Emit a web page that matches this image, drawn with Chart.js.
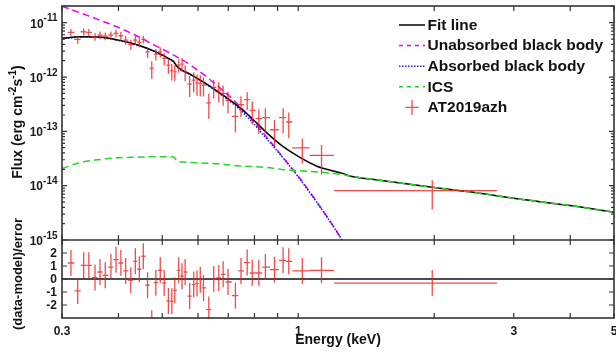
<!DOCTYPE html>
<html>
<head>
<meta charset="utf-8">
<script src="https://cdn.jsdelivr.net/npm/chart.js@4.4.1/dist/chart.umd.min.js"></script>
<style>
  html, body { margin: 0; padding: 0; background: #fff; }
  #wrap { width: 616px; height: 360px; position: relative; }
</style>
</head>
<body>
<div id="wrap"><canvas id="specChart" width="616" height="360"></canvas></div>
<script>
const modelEnergy = [0.3, 0.33, 0.36, 0.4, 0.44, 0.48, 0.52, 0.53, 0.54, 0.58, 0.62, 0.67, 0.72, 0.78,
    0.85, 0.92, 1.0, 1.1, 1.2, 1.25, 1.3, 1.5, 2, 2.5, 3, 4, 5];
const fitFlux = [5.16e-12, 5.49e-12, 5.45e-12, 4.78e-12, 3.93e-12, 2.99e-12, 2.14e-12, 1.93e-12, 1.54e-12,
    1.10e-12, 7.90e-13, 5.10e-13, 3.35e-13, 1.92e-13, 9.56e-14, 5.44e-14, 3.45e-14, 2.28e-14, 1.85e-14,
    1.70e-14, 1.51e-14, 1.27e-14, 9.24e-15, 7.31e-15, 5.86e-15, 4.30e-15, 3.23e-15];
const unabsFlux = [2.01e-11, 1.51e-11, 1.15e-11, 8.15e-12, 5.68e-12, 3.88e-12, 2.76e-12, 2.53e-12, 2.33e-12,
    1.62e-12, 1.08e-12, 6.36e-13, 3.74e-13, 1.85e-13, 8.0e-14, 3.53e-14, 1.5e-14, 5.0e-15, 1.72e-15,
    1.0e-15, null, null, null, null, null, null, null];
const absFlux = [5.11e-12, 5.44e-12, 5.40e-12, 4.73e-12, 3.88e-12, 2.94e-12, 2.09e-12, 1.88e-12, 1.52e-12,
    1.08e-12, 7.70e-13, 4.93e-13, 3.15e-13, 1.68e-13, 7.4e-14, 3.45e-14, 1.45e-14, 4.9e-15, 1.7e-15,
    1.0e-15, null, null, null, null, null, null, null];
const icsFlux = [2.07e-14, 2.68e-14, 3.00e-14, 3.27e-14, 3.35e-14, 3.41e-14, 3.41e-14, 3.38e-14, 2.79e-14,
    2.68e-14, 2.60e-14, 2.51e-14, 2.36e-14, 2.26e-14, 2.16e-14, 1.99e-14, 1.90e-14, 1.79e-14, 1.68e-14,
    1.61e-14, 1.51e-14, 1.27e-14, 9.24e-15, 7.31e-15, 5.86e-15, 4.30e-15, 3.23e-15];

// AT2019azh spectrum
const dataEnergy = [0.314, 0.325, 0.335, 0.344, 0.355, 0.364, 0.374, 0.385, 0.395, 0.405, 0.415, 0.426,
    0.436, 0.445, 0.454, 0.464, 0.474, 0.484, 0.495, 0.505, 0.516, 0.525, 0.533, 0.544, 0.553, 0.562,
    0.575, 0.587, 0.597, 0.607, 0.617, 0.634, 0.650, 0.667, 0.682, 0.699, 0.726, 0.747, 0.771, 0.791,
    0.818, 0.846, 0.886, 0.926, 0.953, 1.021, 1.126, 1.98];
const binEdges = [0.309, 0.3195, 0.330, 0.3395, 0.3495, 0.3595, 0.369, 0.3795, 0.390, 0.400, 0.410, 0.4205,
    0.431, 0.4405, 0.4495, 0.459, 0.469, 0.479, 0.4895, 0.500, 0.5105, 0.5205, 0.529, 0.5385, 0.5485,
    0.5575, 0.5685, 0.581, 0.592, 0.602, 0.612, 0.6255, 0.642, 0.6585, 0.6745, 0.6905, 0.7125, 0.7365,
    0.759, 0.781, 0.8045, 0.832, 0.866, 0.906, 0.9395, 0.970, 1.059, 1.20, 2.754];
const dataFlux = [6.65e-12, 4.94e-12, 6.82e-12, 6.65e-12, 5.51e-12, 5.93e-12, 5.68e-12, 5.93e-12, 6.37e-12,
    5.75e-12, 4.79e-12, 3.99e-12, 4.79e-12, 4.35e-12, 4.94e-12, 2.91e-12, 1.44e-12, 2.64e-12, 2.91e-12,
    2.20e-12, 1.655e-12, 1.30e-12, 1.245e-12, 1.655e-12, 1.727e-12, 1.245e-12, 7.38e-13, 8.75e-13,
    7.80e-13, 7.60e-13, 7.07e-13, 3.33e-13, 6.41e-13, 5.72e-13, 4.97e-13, 3.74e-13, 1.89e-13, 3.11e-13,
    3.85e-13, 2.44e-13, 1.72e-13, 1.79e-13, 1.07e-13, 1.79e-13, 1.485e-13, 4.96e-14, 3.61e-14, 8.13e-15];
const dataFluxErr = [1.0e-12, 0.84e-12, 1.02e-12, 1.0e-12, 0.88e-12, 0.95e-12, 0.91e-12, 0.95e-12, 1.05e-12,
    0.98e-12, 0.86e-12, 0.80e-12, 0.86e-12, 0.83e-12, 0.79e-12, 0.64e-12, 0.52e-12, 0.63e-12, 0.64e-12,
    0.57e-12, 0.50e-12, 0.44e-12, 0.41e-12, 0.46e-12, 0.48e-12, 0.41e-12, 0.31e-12, 0.35e-12, 0.33e-12,
    0.32e-12, 0.27e-12, 1.65e-13, 2.4e-13, 2.3e-13, 2.0e-13, 1.6e-13, 0.94e-13, 1.3e-13, 1.39e-13,
    1.1e-13, 0.83e-13, 0.86e-13, 0.54e-13, 0.88e-13, 0.74e-13, 2.4e-14, 2.0e-14, 4.5e-15];
const residuals = [1.23, -0.92, 1.05, 1.05, 0.11, 0.54, 0.28, 0.92, 1.49, 1.23, 0.62, -0.10, 1.36, 0.75,
    1.75, -0.48, -3.4, -0.28, 0.67, -0.31, -1.69, -1.72, -0.87, 0.67, 0.21, 0.54, -1.31, -0.43, -0.35,
    -0.05, -0.69, -2.35, 0.0, 0.08, 0.36, -0.23, -1.28, 0.62, 1.26, 0.46, 0.46, 0.92, 0.72, 1.44, 1.36,
    0.62, 0.67, -0.31];

// axes
const xTickValues = [0.3, 0.4, 0.5, 0.6, 0.7, 0.8, 0.9, 1, 2, 3, 4, 5];
const xLabelValues = [0.3, 1, 3, 5];
const xLabelText = ['0.3', '1', '3', '5'];
const fluxDecades = [-15, -14, -13, -12, -11];
const residTicks = [-2, -1, 0, 1, 2];

const FONT = '"Liberation Sans", Arial, Helvetica, sans-serif';

function toPoints(xs, ys) {
    return xs.map((x, i) => ({ x: x, y: ys[i] }));
}

// error crosses for the spectrum and the residuals
const errorBars = {
    id: 'errorBars',
    beforeDatasetsDraw(chart) {
        const { ctx, chartArea, scales } = chart;
        const y0 = scales.yr.getPixelForValue(0);
        ctx.save();
        ctx.strokeStyle = '#111';
        ctx.lineWidth = 1.5;
        ctx.beginPath();
        ctx.moveTo(chartArea.left, y0);
        ctx.lineTo(chartArea.right, y0);
        ctx.stroke();
        ctx.restore();
    },
    afterDatasetsDraw(chart) {
        const { ctx, chartArea, scales } = chart;
        chart.data.datasets.forEach(ds => {
            if (!ds.errors) return;
            const ys = scales[ds.yAxisID];
            ctx.save();
            ctx.beginPath();
            ctx.rect(chartArea.left, ys.top, chartArea.right - chartArea.left, ys.bottom - ys.top);
            ctx.clip();
            ctx.strokeStyle = ds.borderColor;
            ctx.lineWidth = ds.borderWidth;
            ds.data.forEach((p, i) => {
                const e = ds.errors[i];
                const xl = scales.x.getPixelForValue(e.xlo);
                const xh = scales.x.getPixelForValue(e.xhi);
                const xc = scales.x.getPixelForValue(p.x);
                const yc = ys.getPixelForValue(p.y);
                const lo = p.y - e.dy;
                const yl = (ys.type === 'logarithmic' && lo <= 0) ? ys.bottom + 5 : ys.getPixelForValue(lo);
                const yh = ys.getPixelForValue(p.y + e.dy);
                ctx.beginPath();
                ctx.moveTo(xl, yc); ctx.lineTo(xh, yc);
                ctx.moveTo(xc, yl); ctx.lineTo(xc, yh);
                ctx.stroke();
            });
            ctx.restore();
        });
    }
};

// box, inward ticks, labels, titles, legend
const frame = {
    id: 'frame',
    afterDraw(chart) {
        const { ctx, chartArea: ca, scales: { x, y, yr } } = chart;
        ctx.save();
        ctx.strokeStyle = '#333';
        ctx.lineWidth = 1.2;
        ctx.beginPath();
        [y, yr].forEach(s => {
            xTickValues.forEach(v => {
                const px = x.getPixelForValue(v);
                ctx.moveTo(px, s.top); ctx.lineTo(px, s.top + 5);
                ctx.moveTo(px, s.bottom); ctx.lineTo(px, s.bottom - 5);
            });
        });
        fluxDecades.forEach(d => {
            for (let m = 1; m <= 9; m++) {
                const v = m * Math.pow(10, d);
                if (v > y.max) break;
                const py = y.getPixelForValue(v);
                const len = m === 1 ? 5 : 3;
                ctx.moveTo(ca.left, py); ctx.lineTo(ca.left + len, py);
                ctx.moveTo(ca.right, py); ctx.lineTo(ca.right - len, py);
            }
        });
        residTicks.forEach(t => {
            const py = yr.getPixelForValue(t);
            ctx.moveTo(ca.left, py); ctx.lineTo(ca.left + 5, py);
            ctx.moveTo(ca.right, py); ctx.lineTo(ca.right - 5, py);
        });
        ctx.stroke();

        ctx.lineWidth = 1.6;
        ctx.strokeRect(ca.left, ca.top, ca.right - ca.left, ca.bottom - ca.top);
        ctx.beginPath();
        ctx.moveTo(ca.left, y.bottom); ctx.lineTo(ca.right, y.bottom);
        ctx.stroke();

        // tick labels
        ctx.fillStyle = '#1a1a1a';
        ctx.textBaseline = 'middle';
        fluxDecades.forEach(d => {
            const py = y.getPixelForValue(Math.pow(10, d));
            const sup = String(d);
            ctx.font = 'bold 10px ' + FONT;
            const sw = ctx.measureText(sup).width;
            ctx.font = 'bold 12px ' + FONT;
            const bw = ctx.measureText('10').width;
            const right = ca.left - 4.5;
            ctx.textAlign = 'left';
            ctx.fillText('10', right - sw - bw, py + 1.5);
            ctx.font = 'bold 10px ' + FONT;
            ctx.fillText(sup, right - sw, py - 4);
        });
        ctx.font = 'bold 12px ' + FONT;
        ctx.textAlign = 'right';
        residTicks.forEach(t => {
            ctx.fillText(String(t), ca.left - 5, yr.getPixelForValue(t) + 0.5);
        });
        ctx.textAlign = 'center';
        xLabelValues.forEach((v, i) => {
            ctx.fillText(xLabelText[i], x.getPixelForValue(v), yr.bottom + 13.5);
        });

        // axis titles
        ctx.fillStyle = '#111';
        ctx.font = 'bold 14px ' + FONT;
        ctx.fillText('Energy (keV)', (ca.left + ca.right) / 2, 340);

        const fluxTitle = [
            { t: 'Flux (erg cm', s: 14, dy: 0 },
            { t: '-2', s: 10, dy: -5 },
            { t: 's', s: 14, dy: 0 },
            { t: '-1', s: 10, dy: -5 },
            { t: ')', s: 14, dy: 0 }
        ];
        let total = 0;
        fluxTitle.forEach(p => { ctx.font = 'bold ' + p.s + 'px ' + FONT; p.w = ctx.measureText(p.t).width; total += p.w; });
        ctx.save();
        ctx.translate(18, 122);
        ctx.rotate(-Math.PI / 2);
        ctx.textAlign = 'left';
        let cx = -total / 2;
        fluxTitle.forEach(p => {
            ctx.font = 'bold ' + p.s + 'px ' + FONT;
            ctx.fillText(p.t, cx, p.dy);
            cx += p.w;
        });
        ctx.restore();

        ctx.save();
        ctx.translate(18, 274);
        ctx.rotate(-Math.PI / 2);
        ctx.textAlign = 'center';
        ctx.font = 'bold 13px ' + FONT;
        ctx.fillText('(data-model)/error', 0, 0);
        ctx.restore();

        // legend
        const lx0 = 399, lx1 = 425, tx = 427.5, ly0 = 25, step = 20.6;
        chart.data.datasets.slice(0, 5).forEach((ds, i) => {
            const ly = ly0 + i * step;
            ctx.strokeStyle = ds.borderColor;
            ctx.lineWidth = ds.errors ? 1.3 : ds.borderWidth;
            ctx.beginPath();
            if (ds.errors) {
                ctx.setLineDash([]);
                const cxm = (lx0 + lx1) / 2;
                ctx.moveTo(cxm - 6.5, ly); ctx.lineTo(cxm + 6.5, ly);
                ctx.moveTo(cxm, ly - 7.5); ctx.lineTo(cxm, ly + 7.5);
            } else {
                ctx.setLineDash(ds.legendDash || []);
                ctx.moveTo(lx0, ly); ctx.lineTo(lx1, ly);
            }
            ctx.stroke();
            ctx.setLineDash([]);
            ctx.fillStyle = '#111';
            ctx.textAlign = 'left';
            ctx.font = 'bold 15.5px ' + FONT;
            ctx.fillText(ds.label, tx, ly + 0.5);
        });
        ctx.restore();
    }
};

const lineStyle = { pointRadius: 0, fill: false, tension: 0, cubicInterpolationMode: 'monotone', yAxisID: 'y' };
const hiddenAxis = {
    ticks: { display: false }, grid: { display: false }, border: { display: false },
    afterFit(scale) {
        if (scale.isHorizontal()) scale.height = 0; else scale.width = 0;
    }
};

new Chart(document.getElementById('specChart').getContext('2d'), {
    type: 'line',
    data: {
        datasets: [
            Object.assign({ label: 'Fit line', data: toPoints(modelEnergy, fitFlux),
                borderColor: '#000', borderWidth: 1.5, order: 0 }, lineStyle),
            Object.assign({ label: 'Unabsorbed black body', data: toPoints(modelEnergy, unabsFlux),
                borderColor: '#ee00ee', borderWidth: 1.5, borderDash: [7, 4], legendDash: [4, 4], order: 2 }, lineStyle),
            Object.assign({ label: 'Absorbed black body', data: toPoints(modelEnergy, absFlux),
                borderColor: '#1a1aee', borderWidth: 1.5, borderDash: [1.5, 1.5], legendDash: [1.5, 1.5], order: 1 }, lineStyle),
            Object.assign({ label: 'ICS', data: toPoints(modelEnergy, icsFlux),
                borderColor: '#22d822', borderWidth: 1.5, borderDash: [7, 4], legendDash: [4, 4], order: -1 }, lineStyle),
            {
                label: 'AT2019azh', data: toPoints(dataEnergy, dataFlux), yAxisID: 'y',
                showLine: false, pointRadius: 0, borderColor: 'rgba(236,30,30,0.8)', borderWidth: 1.3, order: 4,
                errors: dataEnergy.map((e, i) => ({ xlo: binEdges[i], xhi: binEdges[i + 1], dy: dataFluxErr[i] }))
            },
            {
                label: 'residuals', data: toPoints(dataEnergy, residuals), yAxisID: 'yr',
                showLine: false, pointRadius: 0, borderColor: 'rgba(236,30,30,0.8)', borderWidth: 1.3, order: 5,
                errors: dataEnergy.map((e, i) => ({ xlo: binEdges[i], xhi: binEdges[i + 1], dy: 1 }))
            }
        ]
    },
    options: {
        responsive: false,
        animation: false,
        devicePixelRatio: 1,
        events: [],
        layout: { padding: { left: 62, right: 2, top: 6, bottom: 42 } },
        plugins: { legend: { display: false }, tooltip: { enabled: false } },
        scales: {
            x: Object.assign({ type: 'logarithmic', min: 0.3, max: 5 }, hiddenAxis),
            y: Object.assign({ type: 'logarithmic', position: 'left', stack: 'panels', stackWeight: 3, weight: 2,
                min: 1e-15, max: 2.03e-11 }, hiddenAxis),
            yr: Object.assign({ type: 'linear', position: 'left', stack: 'panels', stackWeight: 1, weight: 1,
                min: -3, max: 3 }, hiddenAxis)
        }
    },
    plugins: [errorBars, frame]
});
</script>
</body>
</html>
